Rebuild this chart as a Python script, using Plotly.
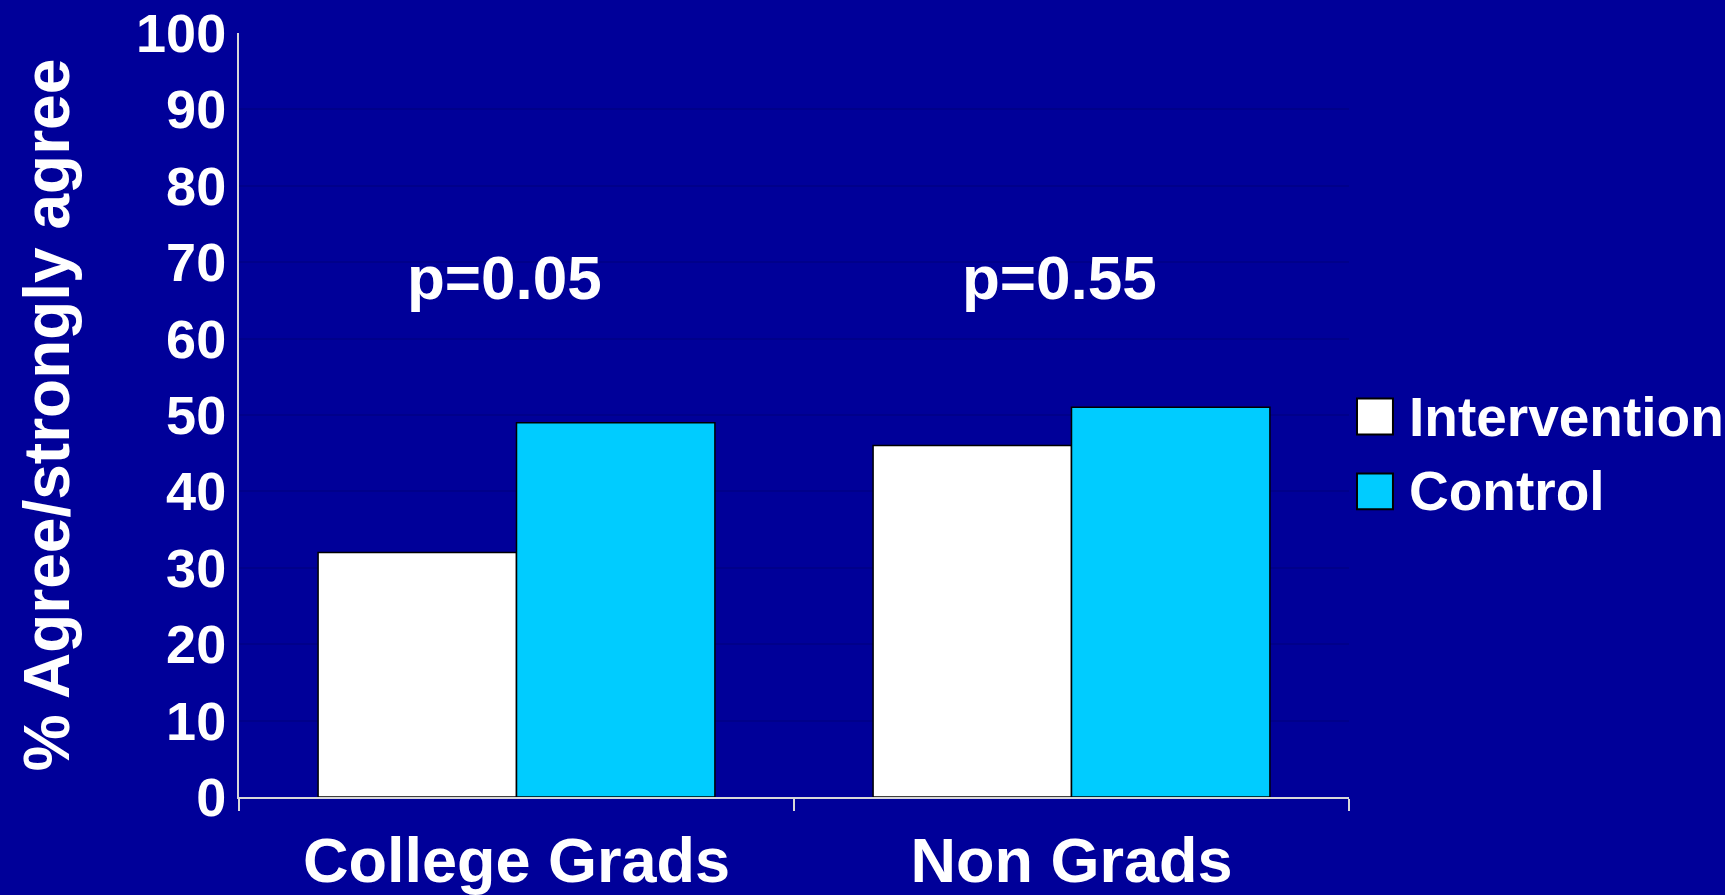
import plotly.graph_objects as go

# Survey results: share answering agree / strongly agree, by education group
categories = ["College Grads", "Non Grads"]
intervention = [32, 46]
control = [49, 51]
p_values = ["p=0.05", "p=0.55"]
series_names = ["Intervention", "Control"]
y_ticks = [0, 10, 20, 30, 40, 50, 60, 70, 80, 90, 100]

BG = "#000099"
CYAN = "#00CCFF"
FONT = "Arial, Liberation Sans, sans-serif"

fig = go.Figure()
fig.add_trace(go.Bar(name=series_names[0], x=categories, y=intervention,
                     marker=dict(color="white", line=dict(color="black", width=1.5)),
                     showlegend=False))
fig.add_trace(go.Bar(name=series_names[1], x=categories, y=control,
                     marker=dict(color=CYAN, line=dict(color="black", width=1.5)),
                     showlegend=False))

# p-value labels above each group
for cat, p in zip(categories, p_values):
    fig.add_annotation(x=cat, y=68, text=p, showarrow=False,
                       xshift=-12, yanchor="middle",
                       font=dict(family=FONT, size=62, color="white", weight="bold"))

# Legend drawn as swatches + labels to the right of the plot
legend_rows = [(series_names[0], "white", 0.498), (series_names[1], CYAN, 0.400)]
for name, color, yc in legend_rows:
    fig.add_shape(type="rect", xref="paper", yref="paper",
                  x0=1.0072, x1=1.0396, y0=yc - 0.0235, y1=yc + 0.0235,
                  fillcolor=color, line=dict(color="black", width=2))
    fig.add_annotation(xref="paper", yref="paper", x=1.052, y=yc,
                       xanchor="left", yanchor="middle", showarrow=False,
                       text=name,
                       font=dict(family=FONT, size=55, color="white", weight="bold"))

fig.update_layout(
    width=1725, height=895,
    paper_bgcolor=BG, plot_bgcolor=BG,
    barmode="group", bargap=0.285, bargroupgap=0,
    margin=dict(l=239, r=376, t=33, b=98),
    font=dict(family=FONT, color="white", weight="bold"),
    xaxis=dict(
        showline=True, linecolor="#D8D8D8", linewidth=2,
        ticks="outside", tickson="boundaries", ticklen=12, tickwidth=2,
        tickcolor="#D8D8D8", ticklabelstandoff=7,
        tickfont=dict(family=FONT, size=63, color="white", weight="bold"),
        showgrid=False, automargin=False,
    ),
    yaxis=dict(
        range=[0, 100], tickvals=y_ticks, ticks="",
        showline=True, linecolor="#D8D8D8", linewidth=2,
        showgrid=True, gridcolor="#00008A", gridwidth=2,
        zeroline=False,
        tickfont=dict(family=FONT, size=54, color="white", weight="bold"),
        title=dict(text="% Agree/strongly agree",
                   font=dict(family=FONT, size=64, color="white", weight="bold"),
                   standoff=46),
        automargin=False,
    ),
)

fig.write_html("out.html")
